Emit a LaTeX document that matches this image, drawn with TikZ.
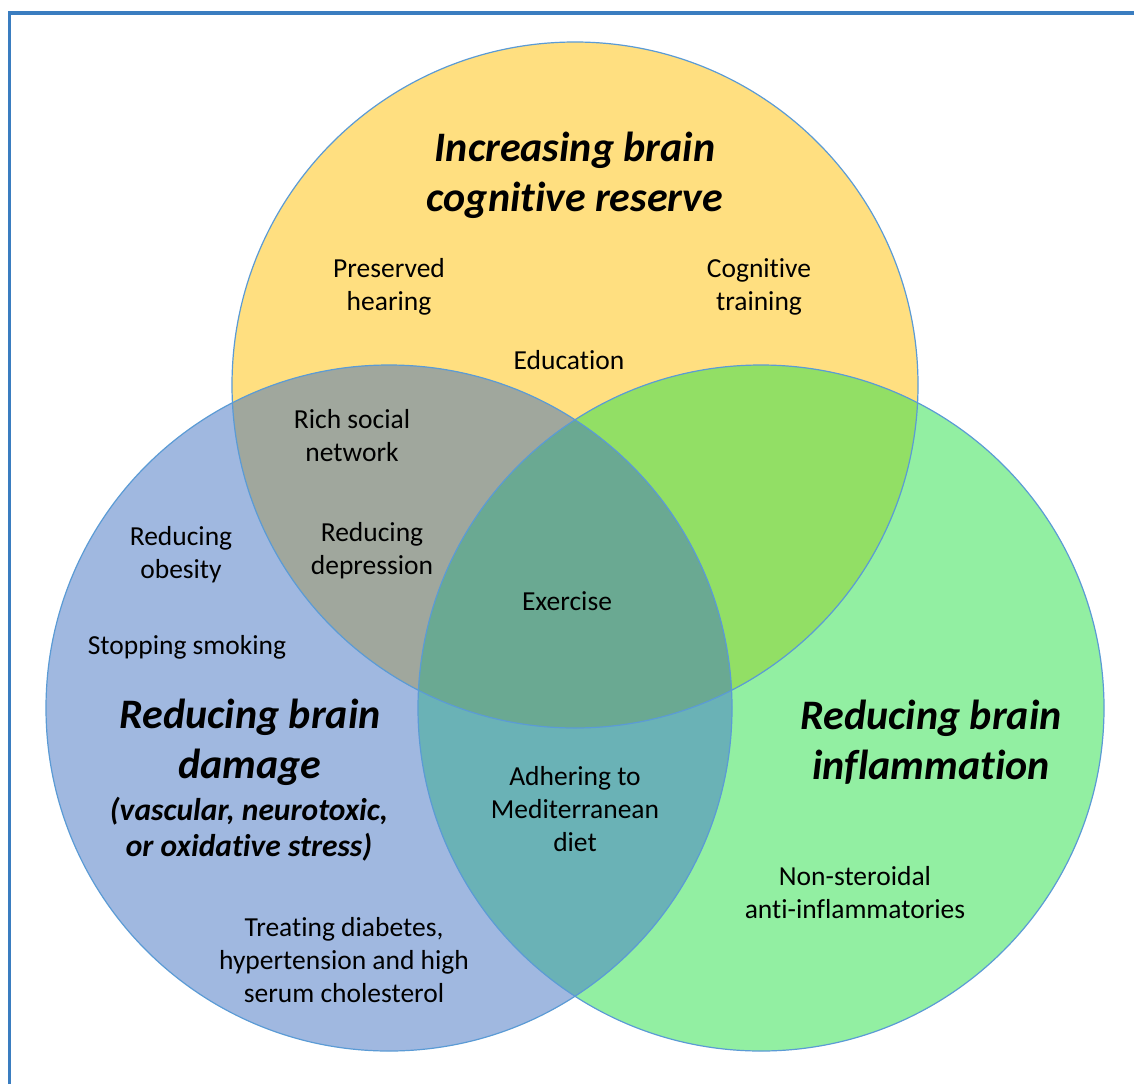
\documentclass[tikz,border=0pt]{standalone}
\usepackage{fontspec}
\setmainfont{Carlito}[Ligatures=NoCommon]
\definecolor{topyel}{HTML}{FFDF80}
\definecolor{leftblu}{HTML}{A0B8E0}
\definecolor{rightgrn}{HTML}{92EFA2}
\definecolor{yelblu}{HTML}{A0A79D}
\definecolor{yelgrn}{HTML}{92DF65}
\definecolor{blugrn}{HTML}{6AB2B6}
\definecolor{allthree}{HTML}{6AA992}
\definecolor{rimblue}{HTML}{5B9BD5}
\definecolor{framblue}{HTML}{3A7DC0}
\tikzset{
  txt/.style={align=center, font=\fontsize{27.5}{33}\selectfont},
  headtxt/.style={align=center, font=\fontsize{42}{50}\selectfont\bfseries\itshape},
  subtxt/.style={align=center, font=\fontsize{31.5}{36}\selectfont\bfseries\itshape}
}
\begin{document}
\begin{tikzpicture}[x=1pt, y=-1pt]
    \useasboundingbox (0,0) rectangle (1134,1084);
    \fill[white] (0,0) rectangle (1134,1084);
    % frame, open at right and bottom
    \draw[framblue, line width=3.5pt] (9.5,1084) -- (9.5,13) -- (1134,13);
    % the three sets
    \coordinate (ctop) at (575,385);
    \coordinate (cleft) at (389,708);
    \coordinate (cright) at (761,708);
    \fill[topyel] (ctop) circle (343);
    \fill[leftblu] (cleft) circle (343);
    \fill[rightgrn] (cright) circle (343);
    \begin{scope}
        \clip (ctop) circle (343);
        \fill[yelblu] (cleft) circle (343);
        \fill[yelgrn] (cright) circle (343);
    \end{scope}
    \begin{scope}
        \clip (cleft) circle (343);
        \fill[blugrn] (cright) circle (343);
    \end{scope}
    \begin{scope}
        \clip (ctop) circle (343);
        \clip (cleft) circle (343);
        \fill[allthree] (cright) circle (343);
    \end{scope}
    \foreach \c in {ctop, cleft, cright}
        \draw[rimblue, line width=1.2pt] (\c) circle (343);
    % headings
    \node[headtxt] (hreserve) at (575,175) {Increasing brain\\cognitive reserve};
    \node[headtxt] (hdamage) at (250,742) {Reducing brain\\damage};
    \node[subtxt] (hcause) at (249,829) {(vascular, neurotoxic,\\or oxidative stress)};
    \node[headtxt] (hinflam) at (931,742) {Reducing brain\\inflammation};
    % factors
    \node[txt] (hearing) at (389,287) {Preserved\\hearing};
    \node[txt] (training) at (759,287) {Cognitive\\training};
    \node[txt] (educ) at (569,360) {Education};
    \node[txt] (social) at (352,436) {Rich social\\network};
    \node[txt] (depress) at (372,551) {Reducing\\depression};
    \node[txt] (obesity) at (181,555) {Reducing\\obesity};
    \node[txt] (smoking) at (187,647) {Stopping smoking};
    \node[txt] (exercise) at (567,601) {Exercise};
    \node[txt] (diet) at (575,809) {Adhering to\\Mediterranean\\diet};
    \node[txt] (nsaid) at (855,893) {Non-steroidal\\anti-inflammatories};
    \node[txt] (treat) at (344,960) {Treating diabetes,\\hypertension and high\\serum cholesterol};
\end{tikzpicture}
\end{document}
